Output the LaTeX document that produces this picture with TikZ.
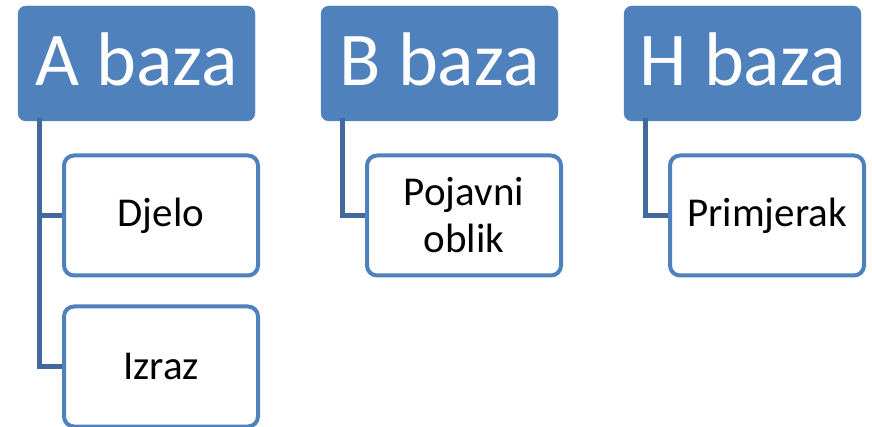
\documentclass[tikz,border=0pt]{standalone}
\usepackage{fontspec}
\setmainfont{Carlito}
\definecolor{bazablue}{HTML}{4F81BD}
\definecolor{linkblue}{HTML}{41699C}
\begin{document}
\begin{tikzpicture}
    [x=1pt,y=-1pt,
    baza/.style={rectangle,rounded corners=8pt,fill=bazablue,draw=bazablue,text=white,
        minimum width=237pt,minimum height=115pt,inner sep=0pt,text depth=8pt,
        font=\fontsize{76}{82}\selectfont},
    entitet/.style={rectangle,rounded corners=10pt,draw=bazablue,line width=4pt,fill=white,
        minimum width=194pt,minimum height=120pt,inner sep=0pt,align=center,
        font=\fontsize{41}{47}\selectfont},
    veza/.style={draw=linkblue,line width=5pt}]

    \useasboundingbox (0,0) rectangle (872,427);

    % zaglavlja
    \node[baza] (ha) at (136.5,63.5) {A baza};
    \node[baza] (hb) at (439.5,63.5) {B baza};
    \node[baza] (hh) at (742.5,63.5) {H baza};

    % entiteti
    \node[entitet] (djelo) at (161,215.5) {Djelo};
    \node[entitet] (izraz) at (161,366.5) {Izraz};
    \node[entitet] (pojavni) at (464,215.5) {Pojavni\\oblik};
    \node[entitet] (primjerak) at (767,215.5) {Primjerak};

    \draw[veza] ([xshift=22pt,yshift=3pt]ha.south west) |- (djelo.west);
    \draw[veza] ([xshift=22pt,yshift=3pt]ha.south west) |- (izraz.west);
    \draw[veza] ([xshift=22pt,yshift=3pt]hb.south west) |- (pojavni.west);
    \draw[veza] ([xshift=22pt,yshift=3pt]hh.south west) |- (primjerak.west);
\end{tikzpicture}
\end{document}
